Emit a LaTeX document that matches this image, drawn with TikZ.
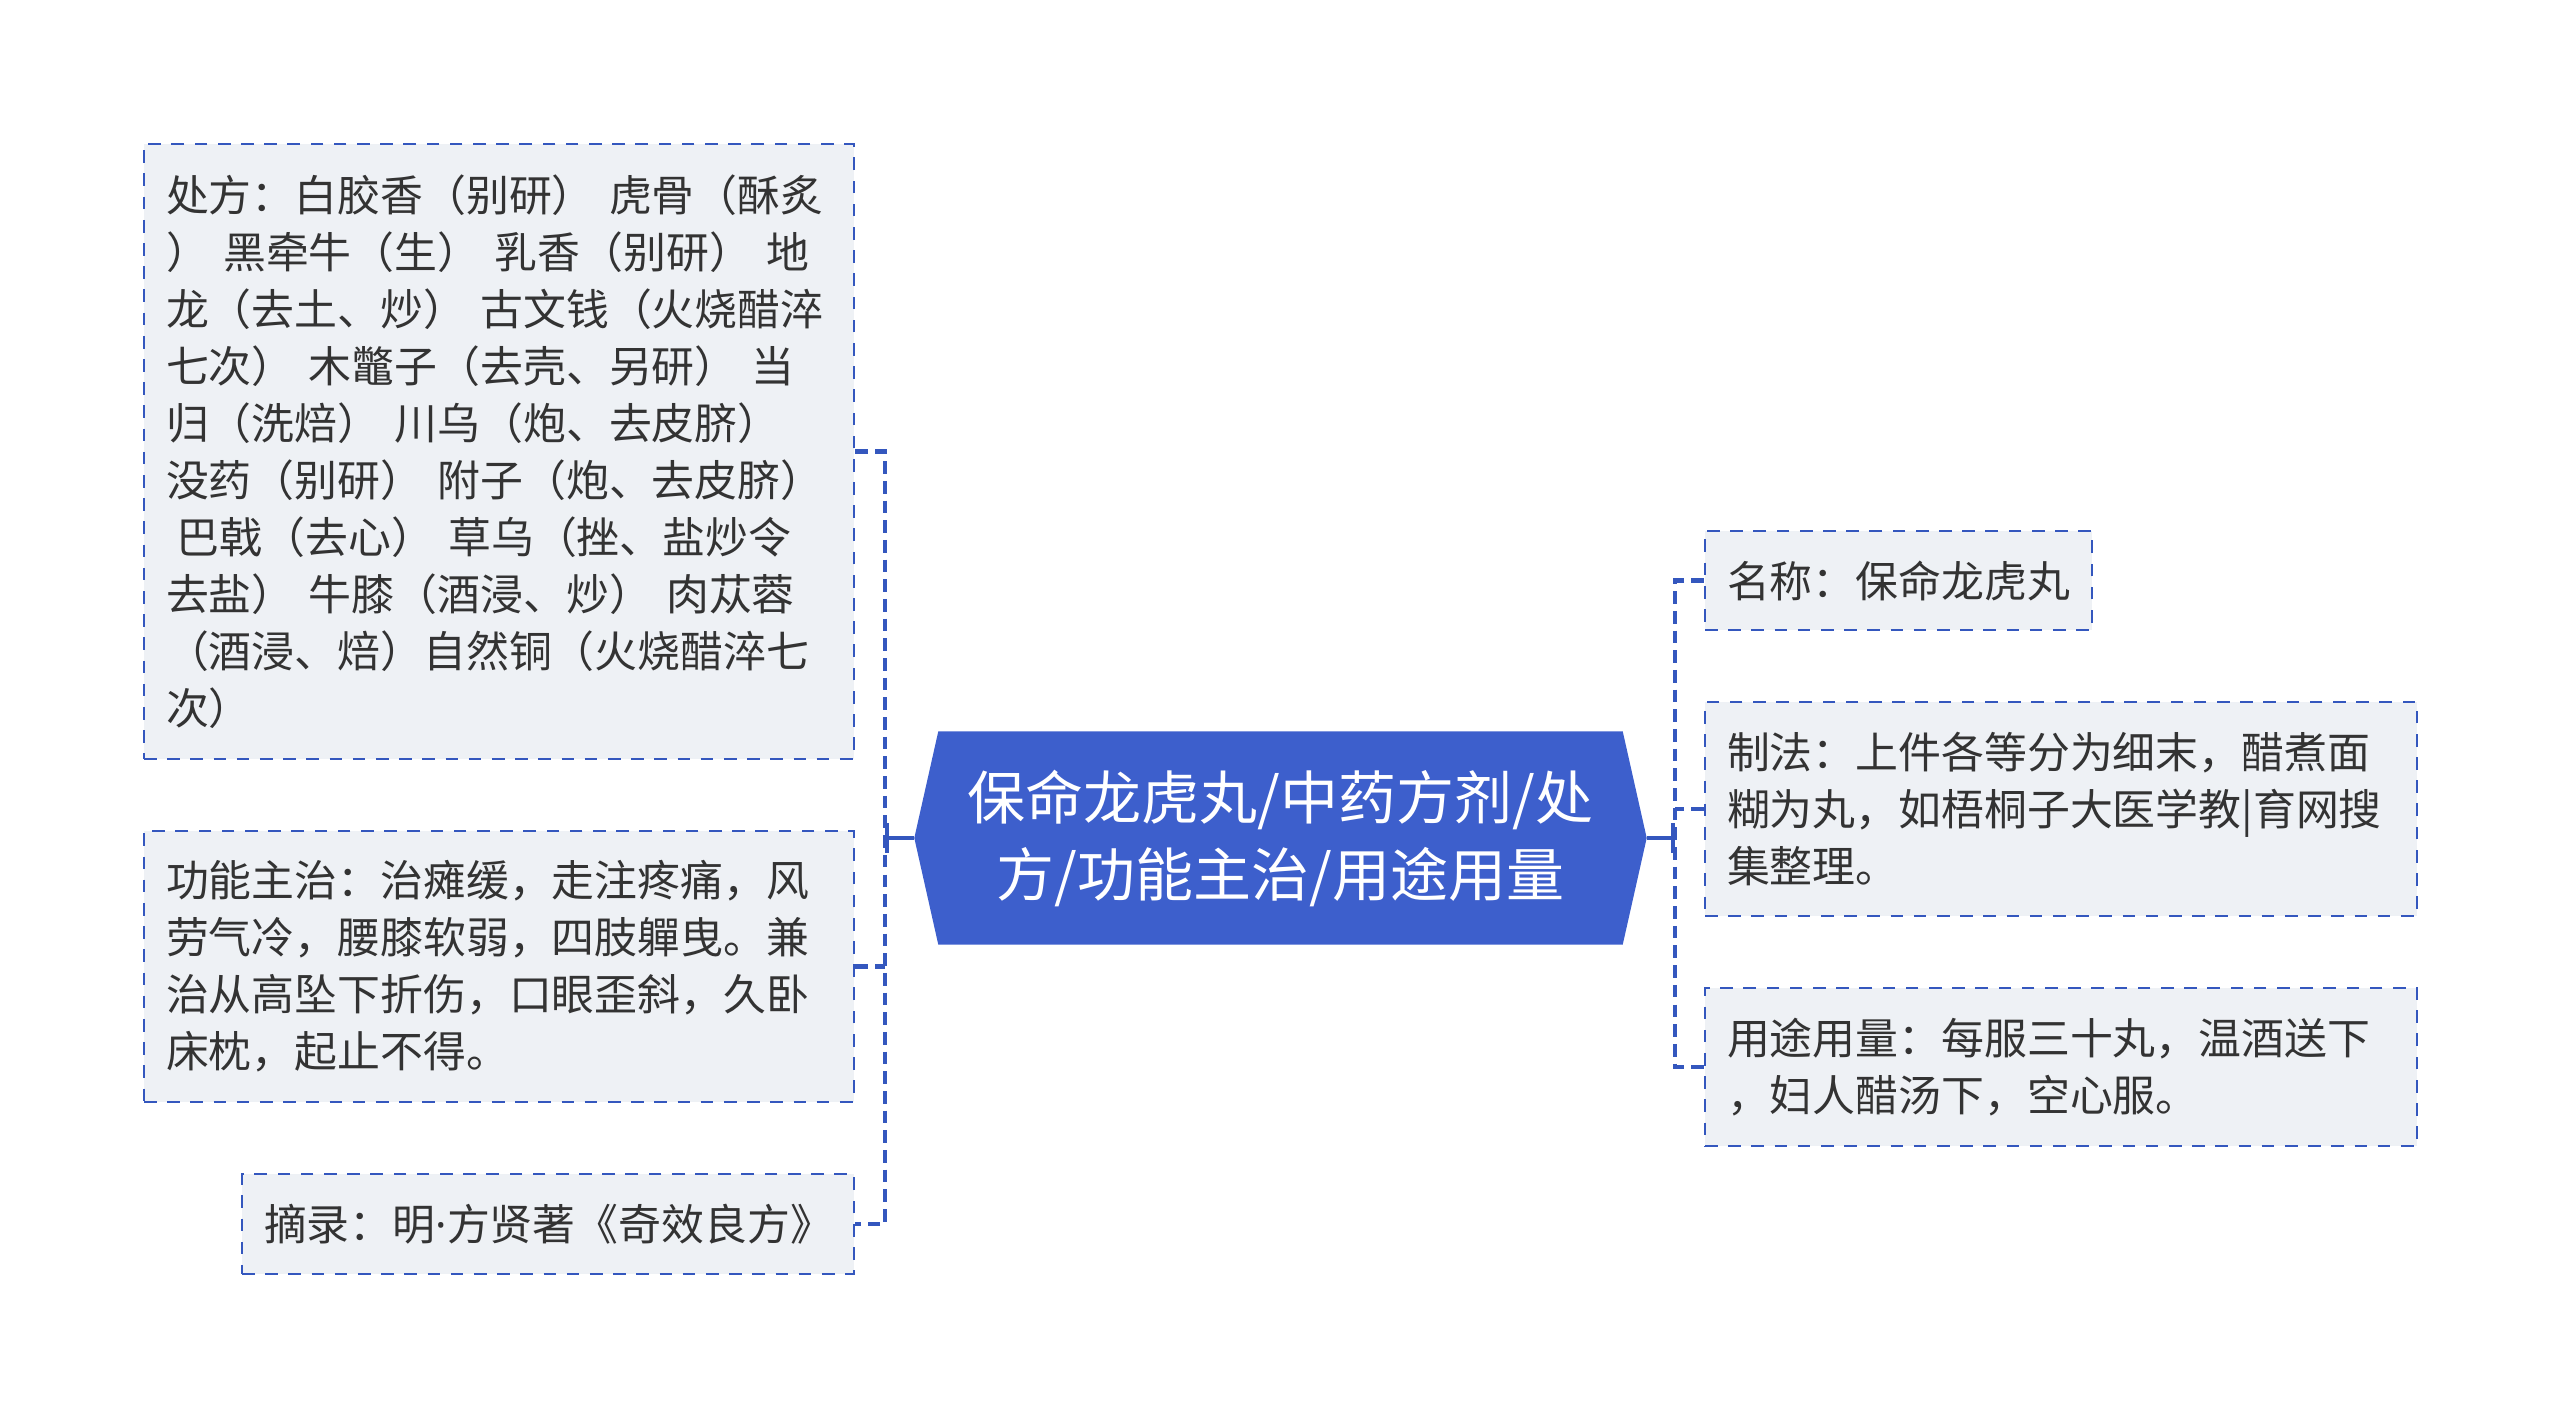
\documentclass[tikz,border=0pt]{standalone}
\usepackage{fontspec}
\newfontfamily\cjk{Noto Sans CJK SC}
\newfontfamily\latin{Noto Sans}
\usepackage{xcolor}
\usepackage{tikz}
\usetikzlibrary{arrows}
\usetikzlibrary{calc,backgrounds}
\definecolor{rootblue}{HTML}{3D5FCC}
\definecolor{linkblue}{HTML}{3457BE}
\definecolor{leafgray}{HTML}{EEF1F5}
\definecolor{inkgray}{HTML}{333333}
\tikzset{
  leaf/.style={draw=linkblue, line width=.75pt, dash pattern=on 3.6pt off 3pt,
    fill=leafgray, text=inkgray, align=left, inner xsep=.22cm, inner ysep=0pt,
    font=\cjk\fontsize{12.2}{16.2}\selectfont},
  rootbox/.style={inner sep=0pt, text=white, align=center,
    minimum width=6.83cm, minimum height=2.12cm,
    font=\cjk\fontsize{16.5}{21.9}\selectfont},
  link/.style={linkblue, line width=1.3pt, dash pattern=on 3.6pt off 2pt},
  trunk/.style={linkblue, line width=1.1pt, -|}
}

\begin{document}
\begin{tikzpicture}
\useasboundingbox (0,0) rectangle (25.6,14.19);
% centre
\node[rootbox] (root) at (12.805,5.81) {保命龙虎丸/中药方剂/处\\方/功能主治/用途用量};
\begin{pgfonlayer}{background}
\fill[rootblue] (root.north west) -- (root.north east) -- ([xshift=.24cm]root.east)
  -- (root.south east) -- (root.south west) -- ([xshift=-.24cm]root.west) -- cycle;
\end{pgfonlayer}
\coordinate (roottipw) at ([xshift=-.24cm]root.west);
\coordinate (roottipe) at ([xshift=.24cm]root.east);
\coordinate (lfork) at (8.85,5.81);
\coordinate (rfork) at (16.75,5.81);

% left side
\node[leaf, text width=6.66cm, minimum height=6.15cm] (chufang) at (4.99,9.675)
  {处方：白胶香（别研） 虎骨（酥炙\\
   ） 黑牵牛（生） 乳香（别研） 地\\
   龙（去土、炒） 古文钱（火烧醋淬\\
   七次） 木鼈子（去壳、另研） 当\\
   归（洗焙） 川乌（炮、去皮脐）\\
   没药（别研） 附子（炮、去皮脐）\\
   \hspace{.25em}巴戟（去心） 草乌（挫、盐炒令\\
   去盐） 牛膝（酒浸、炒） 肉苁蓉\\
   （酒浸、焙）自然铜（火烧醋淬七\\
   次）};
\node[leaf, text width=6.66cm, minimum height=2.71cm] (gongneng) at (4.99,4.525)
  {功能主治：治瘫缓，走注疼痛，风\\
   劳气冷，腰膝软弱，四肢軃曳。兼\\
   治从高坠下折伤，口眼歪斜，久卧\\
   床枕，起止不得。};
\node[leaf, text width=5.68cm, minimum height=1cm] (zhailu) at (5.48,1.95)
  {摘录：明{\latin ·}方贤著《奇效良方》};

% right side
\node[leaf, text width=3.43cm, minimum height=.99cm] (mingcheng) at (18.985,8.385)
  {名称：保命龙虎丸};
\node[leaf, text width=6.68cm, minimum height=2.14cm] (zhifa) at (20.61,6.10)
  {制法：上件各等分为细末，醋煮面\\
   糊为丸，如梧桐子大医学教|育网搜\\
   集整理。};
\node[leaf, text width=6.68cm, minimum height=1.58cm] (yongtu) at (20.61,3.52)
  {用途用量：每服三十丸，温酒送下\\
   ，妇人醋汤下，空心服。};

% connectors
\draw[trunk] (roottipw) -- (lfork);
\draw[link] (chufang.east) -| (lfork) |- (zhailu.east);
\draw[link] (gongneng.east) -- (gongneng.east -| lfork);
\draw[trunk] (roottipe) -- (rfork);
\draw[link] (mingcheng.west) -| (rfork) |- (yongtu.west);
\draw[link] (zhifa.west) -- (zhifa.west -| rfork);
\end{tikzpicture}
\end{document}
